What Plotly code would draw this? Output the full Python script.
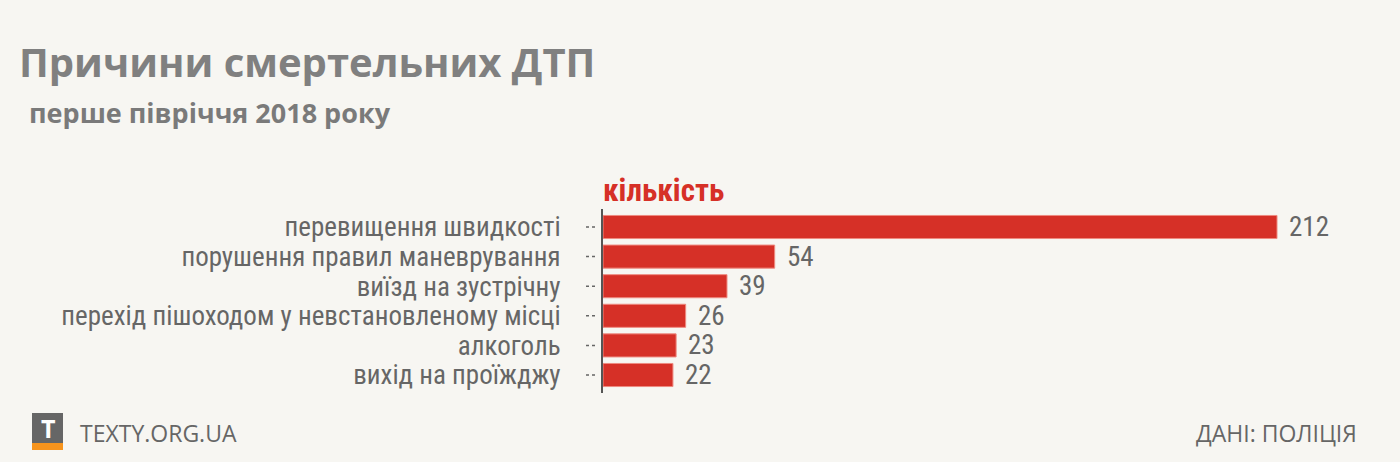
import plotly.graph_objects as go

categories = [
    "перевищення швидкості",
    "порушення правил маневрування",
    "виїзд на зустрічну",
    "перехід пішоходом у невстановленому місці",
    "алкоголь",
    "вихід на проїжджу",
]
values = [212, 54, 39, 26, 23, 22]

title = "Причини смертельних ДТП"
subtitle = "перше півріччя 2018 року"
series_label = "кількість"
source = "ДАНІ: ПОЛІЦІЯ"
brand = "TEXTY.ORG.UA"

BG = "#f7f6f2"
RED = "#d63027"
GRAY = "#666666"
NARROW = "Roboto Condensed, Open Sans, sans-serif"

W, H = 1400, 462
L, R, T, B = 603, 20, 209, 69
plot_w = W - L - R
px_per_unit = (1277 - 603) / 212.0
xmax = plot_w / px_per_unit

fig = go.Figure()
fig.add_trace(go.Bar(
    x=values, y=categories, orientation="h",
    marker=dict(color=RED, line=dict(color="#ee8a80", width=1)),
    hoverinfo="skip",
))

ph = H - T - B
def py(ypix):
    return (H - B - ypix) / ph
def px(xpix):
    return (xpix - L) / plot_w

shapes = []
for c in categories:
    shapes.append(dict(type="line", xref="paper", yref="y",
                       x0=-17 / plot_w, x1=-5 / plot_w, y0=c, y1=c,
                       line=dict(color=GRAY, width=1.5, dash="dot")))
# logo
shapes.append(dict(type="rect", xref="paper", yref="paper",
                   x0=px(32), x1=px(63), y0=py(443), y1=py(413),
                   fillcolor="#666666", line=dict(width=0), layer="above"))
shapes.append(dict(type="rect", xref="paper", yref="paper",
                   x0=px(32), x1=px(63), y0=py(450), y1=py(443),
                   fillcolor="#f7941d", line=dict(width=0), layer="above"))

annotations = [
    dict(text=f"<b>{title}</b>", xref="paper", yref="paper", x=px(17), y=py(62),
         xanchor="left", yanchor="middle", showarrow=False,
         font=dict(family="Open Sans, sans-serif", size=40, color="#808080")),
    dict(text=f"<b>{subtitle}</b>", xref="paper", yref="paper", x=px(27), y=py(112),
         xanchor="left", yanchor="middle", showarrow=False,
         font=dict(family="Open Sans, sans-serif", size=27, color="#7a7a7a")),
    dict(text=f"<b>{series_label}</b>", xref="paper", yref="paper", x=px(601), y=py(190),
         xanchor="left", yanchor="middle", showarrow=False,
         font=dict(family=NARROW, size=31, color=RED)),
    dict(text="<b>T</b>", xref="paper", yref="paper", x=px(47.5), y=py(428),
         xanchor="center", yanchor="middle", showarrow=False,
         font=dict(family="Open Sans, sans-serif", size=25, color="white")),
    dict(text=brand, xref="paper", yref="paper", x=px(78), y=py(433),
         xanchor="left", yanchor="middle", showarrow=False,
         font=dict(family="Open Sans, sans-serif", size=23, color=GRAY)),
    dict(text=source, xref="paper", yref="paper", x=px(1359), y=py(433),
         xanchor="right", yanchor="middle", showarrow=False,
         font=dict(family="Open Sans, sans-serif", size=23, color=GRAY)),
]
for c, v in zip(categories, values):
    annotations.append(dict(text=str(v), x=v, y=c, xref="x", yref="y",
                            xanchor="left", yanchor="middle", xshift=10, yshift=0,
                            showarrow=False,
                            font=dict(family=NARROW, size=27, color=GRAY)))

fig.update_layout(
    width=W, height=H, autosize=False,
    margin=dict(l=L, r=R, t=T, b=B, pad=0),
    paper_bgcolor=BG, plot_bgcolor=BG,
    showlegend=False, bargap=0.22,
    shapes=shapes, annotations=annotations,
    xaxis=dict(range=[0, xmax], visible=False, fixedrange=True, automargin=False),
    yaxis=dict(autorange="reversed", showline=True, linecolor="#555555", linewidth=2,
               ticks="", showgrid=False, zeroline=False, ticklabelstandoff=35,
               tickmode="array", tickvals=categories, ticktext=categories,
               automargin=False,
               tickfont=dict(family=NARROW, size=27, color=GRAY), fixedrange=True),
)

fig.write_html("out.html", config={"displayModeBar": False},
               post_script="document.body.style.margin='0';document.body.style.background='%s';" % BG)
